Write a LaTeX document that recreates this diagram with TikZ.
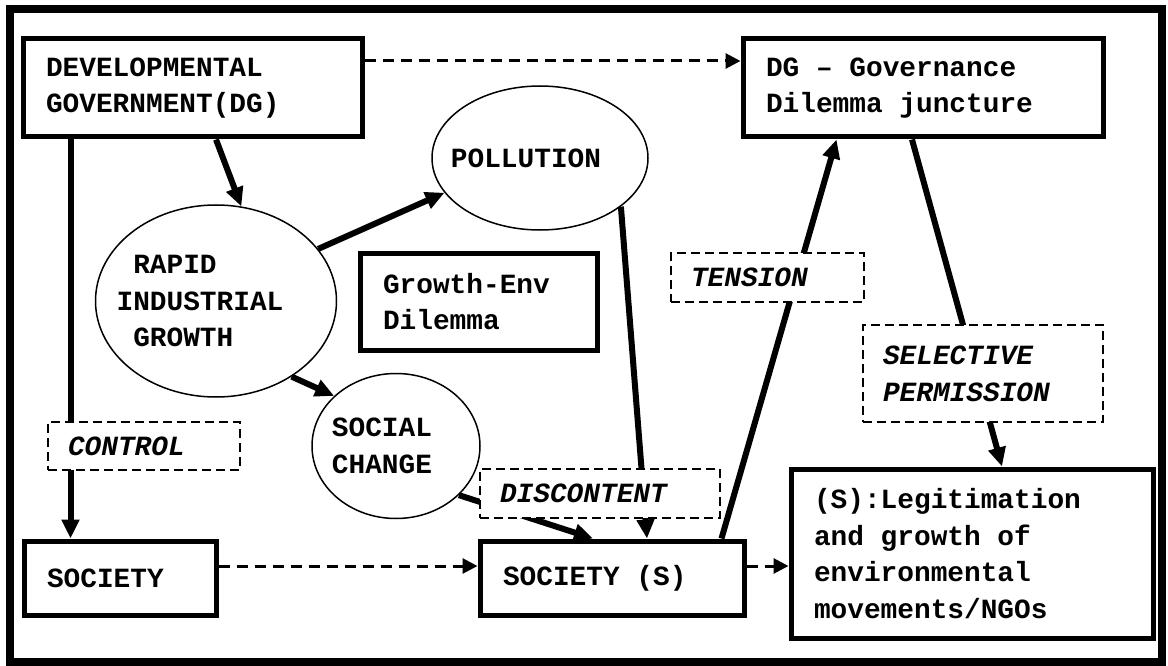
\documentclass[tikz,border=0pt]{standalone}
\usepackage{fontspec}
\setmainfont{Liberation Mono}
\usepackage{tikz}
\usetikzlibrary{shapes.geometric, arrows.meta}

\newcommand{\diagfont}{\fontsize{27.8}{36.8}\selectfont\bfseries}

\begin{document}
\begin{tikzpicture}[x=1pt, y=-1pt,
    rbox/.style={draw, line width=5pt, inner xsep=23pt, inner ysep=0pt, align=flush left, font=\diagfont},
    oval/.style={draw, ellipse, line width=1.5pt, inner sep=0pt, align=flush left, font=\diagfont},
    tag/.style={draw, line width=2pt, dash pattern=on 9pt off 5pt, fill=white, inner xsep=20pt, inner ysep=0pt, align=flush left, font=\diagfont\itshape},
    link/.style={line width=6pt, -{Triangle[length=19pt,width=17pt]}},
    flow/.style={line width=3pt, dash pattern=on 11pt off 7pt, -{Triangle[length=15pt,width=15pt]}}]
    \useasboundingbox (0,0) rectangle (1168,666);
    \draw[line width=8pt] (10,9) rectangle (1162,662);
    % boxes and ovals
    \node[rbox, text width=293pt, minimum height=98pt] (dg) at (192.5,88) {DEVELOPMENTAL\\GOVERNMENT(DG)};
    \node[rbox, text width=314pt, minimum height=98pt] (dgg) at (923,88) {DG – Governance\\Dilemma juncture};
    \node[oval, minimum width=216pt, minimum height=144pt] (pol) at (540,158) {\hspace*{-28pt}POLLUTION};
    \node[oval, minimum width=241pt, minimum height=192pt] (rig) at (216,301)
        {\hspace*{-32pt}\hphantom{R}RAPID\\\hspace*{-32pt}INDUSTRIAL\\\hspace*{-32pt}\hphantom{G}GROWTH};
    \node[rbox, text width=191pt, minimum height=97pt] (genv) at (478.5,301.5) {Growth-Env\\Dilemma};
    \node[oval, minimum width=168pt, minimum height=145pt] (soch) at (396,446) {\hspace*{-28pt}SOCIAL\\\hspace*{-28pt}CHANGE};
    \node[rbox, text width=146pt, minimum height=74pt] (soc) at (120,578) {SOCIETY};
    \node[rbox, text width=218pt, minimum height=74pt] (socs) at (612,578) {SOCIETY (S)};
    \node[rbox, text width=316pt, minimum height=169pt] (ngo) at (972,553.5) {(S):Legitimation\\and growth of\\environmental\\movements/NGOs};
    % connectors
    \draw[flow] ([yshift=27pt]dg.east) -- ([yshift=27pt]dgg.west);
    \draw[link] (dg.south -| rig.north) -- (rig.75);
    \draw[link] ([xshift=49pt]soc.north west |- dg.south) -- ([xshift=49pt]soc.north west);
    \draw[link] (rig.27) -- (pol.200);
    \draw[link] (rig.-45) -- (soch.141);
    \draw[link] (pol.-31) -- ([xshift=35pt]socs.north);
    \draw[link] (soch.-38) -- ([xshift=-19pt]socs.north);
    \draw[link] ([xshift=-25pt]socs.north east) -- ([xshift=96pt]dgg.south west);
    \draw[link] ([xshift=-11pt]dgg.south) -- ([xshift=30pt]ngo.north);
    \draw[flow] ([yshift=12pt]soc.east) -- ([yshift=12pt]socs.west);
    \draw[flow] ([yshift=12pt]socs.east) -- ([yshift=12pt]socs.east -| ngo.west);
    % labels on the connectors
    \node[tag, text width=152pt, minimum height=48pt] (ctrl) at (144,446) {CONTROL};
    \node[tag, text width=200pt, minimum height=49pt] (disc) at (600,493.5) {DISCONTENT};
    \node[tag, text width=153pt, minimum height=49pt] (tens) at (767.5,277.5) {TENSION};
    \node[tag, text width=200pt, minimum height=97pt] (perm) at (983,373.5) {SELECTIVE\\PERMISSION};
\end{tikzpicture}
\end{document}
